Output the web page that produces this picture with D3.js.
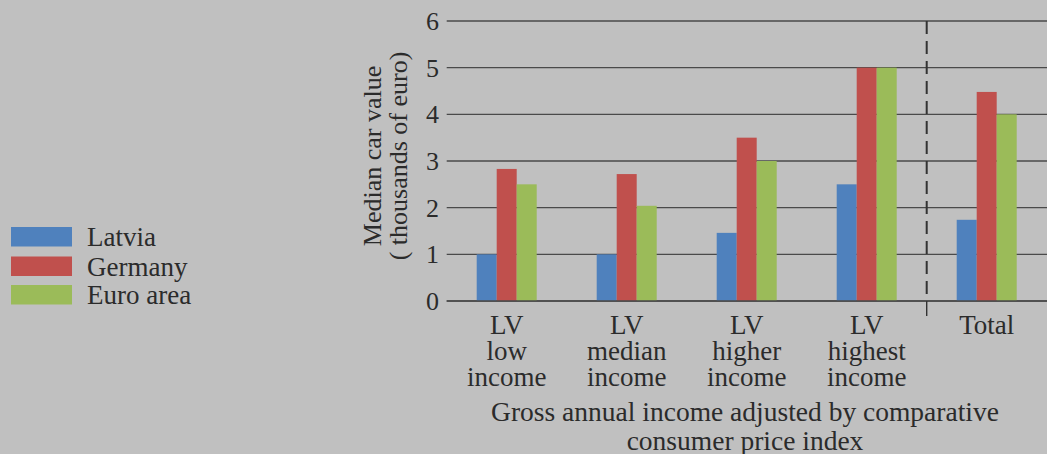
<!DOCTYPE html>
<html>
<head>
<meta charset="utf-8">
<script src="https://cdn.jsdelivr.net/npm/d3@7/dist/d3.min.js"></script>
<style>
  html, body { margin: 0; padding: 0; background: #c0c0c0; overflow: hidden; }
  svg { display: block; }
  text { font-family: "Liberation Serif", "Times New Roman", serif; fill: #2b2b2b; }
</style>
</head>
<body>
<svg id="chart" width="1047" height="454"></svg>
<script>
const categories = [
  ["LV", "low", "income"],
  ["LV", "median", "income"],
  ["LV", "higher", "income"],
  ["LV", "highest", "income"],
  ["Total"]
];
const categoryKeys = ["low", "median", "higher", "highest", "total"];
const seriesNames = ["Latvia", "Germany", "Euro area"];
const latvia   = [1.0, 1.0, 1.46, 2.5, 1.74];
const germany  = [2.83, 2.72, 3.5, 5.0, 4.48];
const euroArea = [2.5, 2.04, 3.0, 5.0, 4.0];
const yTicks = [0, 1, 2, 3, 4, 5, 6];
const yTitle = ["Median car value", "( thousands of euro)"];
const xTitle = ["Gross annual income adjusted by comparative", "consumer price index"];

const colors = ["#4f81bd", "#c0504d", "#9bbb59"];
const seriesValues = [latvia, germany, euroArea];

const svg = d3.select("#chart");
const plotLeft = 446.7, plotRight = 1046.7, plotTop = 21, plotBottom = 301;

const x = d3.scaleBand().domain(categoryKeys).range([plotLeft, plotRight])
  .paddingInner(0.5).paddingOuter(0.25);
const xs = d3.scaleBand().domain(seriesNames).range([0, x.bandwidth()]);
const y = d3.scaleLinear().domain([0, 6]).range([plotBottom, plotTop]);

// gridlines
svg.append("g").selectAll("line").data(yTicks).join("line")
  .attr("x1", plotLeft).attr("x2", 1047)
  .attr("y1", d => y(d)).attr("y2", d => y(d))
  .attr("stroke", "#4a4a4a").attr("stroke-width", 1.4);

// y tick labels
svg.append("g").selectAll("text").data(yTicks).join("text")
  .attr("x", 439).attr("y", d => y(d) + 9)
  .attr("text-anchor", "end")
  .style("font-size", "26px")
  .text(d => d);

// bars
const groups = svg.append("g").selectAll("g").data(categoryKeys).join("g")
  .attr("transform", d => `translate(${x(d)},0)`);
groups.selectAll("rect").data((d, i) => seriesNames.map((s, j) => ({ s, j, v: seriesValues[j][i] })))
  .join("rect")
  .attr("x", d => xs(d.s))
  .attr("width", xs.bandwidth())
  .attr("y", d => y(d.v))
  .attr("height", d => y(0) - y(d.v))
  .attr("fill", d => colors[d.j]);

// redraw baseline over bars
svg.append("line").attr("x1", plotLeft).attr("x2", 1047)
  .attr("y1", y(0)).attr("y2", y(0))
  .attr("stroke", "#4a4a4a").attr("stroke-width", 1.4);

// dashed separator between groups and total
const sepX = x("total") - x.step() * x.paddingInner() / 2;
svg.append("line")
  .attr("x1", sepX).attr("x2", sepX)
  .attr("y1", plotTop).attr("y2", plotBottom)
  .attr("stroke", "#333").attr("stroke-width", 2)
  .attr("stroke-dasharray", "13,7");
svg.append("line")
  .attr("x1", sepX).attr("x2", sepX)
  .attr("y1", plotBottom).attr("y2", 316)
  .attr("stroke", "#333").attr("stroke-width", 1.4);

// x category labels
categoryKeys.forEach((k, i) => {
  const t = svg.append("text")
    .attr("text-anchor", "middle")
    .style("font-size", "27px");
  categories[i].forEach((line, li) => {
    t.append("tspan")
      .attr("x", x(k) + x.bandwidth() / 2)
      .attr("y", 334 + li * 26)
      .text(line);
  });
});

// x axis title
xTitle.forEach((line, li) => {
  svg.append("text")
    .attr("x", 745).attr("y", 421 + li * 28.5)
    .attr("text-anchor", "middle")
    .style("font-size", "27.5px")
    .text(line);
});

// y axis title
yTitle.forEach((line, li) => {
  svg.append("text")
    .attr("transform", `translate(${380.5 + li * 26},156) rotate(-90)`)
    .attr("text-anchor", "middle")
    .style("font-size", "26px")
    .text(line);
});

// legend
const legendY = [227, 256.5, 285];
seriesNames.forEach((s, i) => {
  svg.append("rect")
    .attr("x", 11).attr("y", legendY[i])
    .attr("width", 61).attr("height", 19.5)
    .attr("fill", colors[i]);
  svg.append("text")
    .attr("x", 87).attr("y", legendY[i] + 19)
    .style("font-size", "27px")
    .text(s);
});
</script>
</body>
</html>
